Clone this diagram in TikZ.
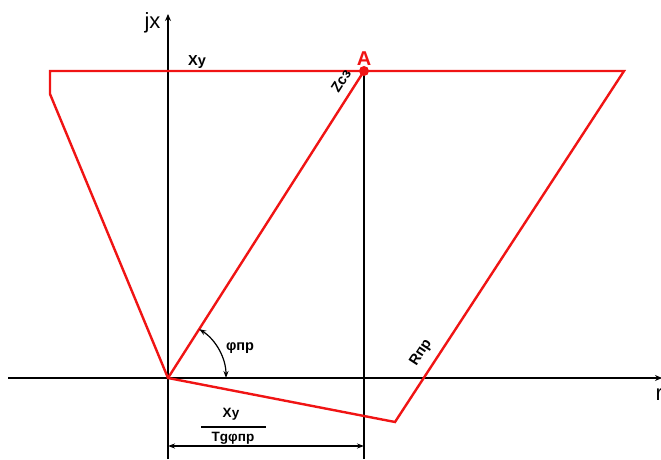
\documentclass[tikz,border=0pt]{standalone}
\usepackage{fontspec}
\setmainfont{Liberation Sans}
\usepackage{tikz}
\usetikzlibrary{arrows.meta,positioning,calc}
\definecolor{zonered}{RGB}{240,20,20}

\begin{document}
\begin{tikzpicture}[x=1pt, y=1pt,
 axis/.style={line width=1.4pt, black, -{Stealth[length=7pt, width=6pt]}},
 guide/.style={line width=1.4pt, black},
 zone/.style={line width=2.4pt, zonered, line join=miter},
 lbl/.style={font=\fontsize{14.5}{14.5}\selectfont\bfseries, inner sep=1pt},
 dim/.style={line width=1.2pt, black, {Stealth[length=7pt, width=5pt]}-{Stealth[length=7pt, width=5pt]}}]
\useasboundingbox (0,0) rectangle (661,459);
% points of the characteristic
\coordinate (O) at (168,81);
\coordinate (A) at (364,388);
\coordinate (topleft) at (50,388);
\coordinate (cutleft) at (50,365);
\coordinate (topright) at (624,388);
\coordinate (bottom) at (395,37);
% axes
\coordinate (xstart) at (8,81);
\coordinate (xend) at (662,81);
\coordinate (ystart) at (168,0);
\coordinate (yend) at (168,445);
\draw[axis] (xstart)--(xend);
\draw[axis] (ystart)--(yend);
\node[font=\fontsize{22}{22}\selectfont, anchor=east] (jx) at (164,436) {jx};
\node[font=\fontsize{22}{22}\selectfont, anchor=north west] (r) at (652,74) {r};
% vertical through A
\coordinate (Adown) at (364,0);
\draw[guide] (A)--(Adown);
% zone polygon
\draw[zone] (topleft)--(topright)--(bottom)--(O)--(cutleft)--cycle;
\draw[zone] (O)--(A);
\fill[zonered] (A) circle (5pt);
\node[font=\fontsize{20}{20}\selectfont\bfseries, text=zonered, above=2pt of A] (Alabel) {A};
% labels
\node[lbl, anchor=south] (xy) at (197,389) {Xу};
\node[lbl, rotate=57.4] (zsz) at (341,378) {Zсз};
\node[lbl, rotate=57] (rpr) at (421,106) {Rпр};
% angle
\draw[dim] ($(O)+(58,0)$) arc[start angle=0, end angle=57.4, radius=58];
\node[lbl] (phi) at (240,111) {φпр};
% dimension
\coordinate (dimL) at (168,13);
\coordinate (dimR) at (364,13);
\draw[dim] (dimL)--(dimR);
\node[lbl, font=\fontsize{13.5}{13.5}\selectfont\bfseries] (num) at (231,45) {Xу};
\node[lbl, font=\fontsize{13.5}{13.5}\selectfont\bfseries] (den) at (233,21) {Tgφпр};
\coordinate (barL) at (201,32);
\coordinate (barR) at (266,32);
\draw[line width=1.2pt] (barL)--(barR);
\end{tikzpicture}
\end{document}
